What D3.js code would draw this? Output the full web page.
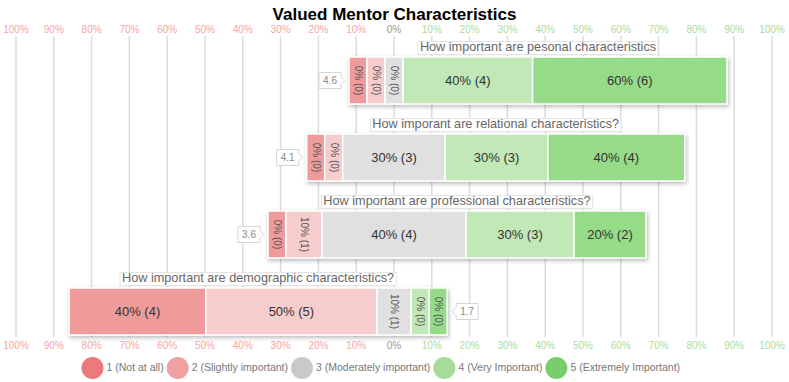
<!DOCTYPE html>
<html>
<head>
<meta charset="utf-8">
<script src="https://cdn.jsdelivr.net/npm/d3@7"></script>
<style>
  body { margin: 0; background: #fff; }
  text { font-family: "Liberation Sans", Arial, sans-serif; }
</style>
</head>
<body>
<svg width="789" height="382"></svg>
<script>
// data
const questions = [
  "How important are pesonal characteristics",
  "How imporant are relational characteristics?",
  "How important are professional characteristics?",
  "How important are demographic characteristics?"
];
const levels = ["1 (Not at all)", "2 (Slightly important)", "3 (Moderately important)",
  "4 (Very Important)", "5 (Extremely Important)"];
const counts = [[0, 0, 0, 4, 6], [0, 0, 3, 3, 4], [0, 1, 4, 3, 2], [4, 5, 1, 0, 0]];
const percents = [[0, 0, 0, 40, 60], [0, 0, 30, 30, 40], [0, 10, 40, 30, 20], [40, 50, 10, 0, 0]];
const means = [4.6, 4.1, 3.6, 1.7];
const tickValues = [-100, -90, -80, -70, -60, -50, -40, -30, -20, -10, 0, 10, 20, 30, 40, 50, 60, 70, 80, 90, 100];

const barColors = ["#ef9b9b", "#f6cccc", "#e0e0e0", "#c1e8b6", "#96db88"];
const legendColors = ["#ec7a7a", "#f0a1a1", "#c9c9c9", "#a7dc98", "#7bcd6b"];

const svg = d3.select("svg"),
  width = +svg.attr("width"),
  height = +svg.attr("height");

const x = d3.scaleLinear().domain([-100, 100]).range([16, 772]);
const y = d3.scaleBand().domain(questions).range([42, 350])
  .paddingInner(0.39).paddingOuter(0.195);

const defs = svg.append("defs");
defs.append("filter").attr("id", "shadow")
  .attr("x", "-5%").attr("y", "-20%").attr("width", "110%").attr("height", "150%")
  .append("feDropShadow")
  .attr("dx", 1).attr("dy", 2).attr("stdDeviation", 2)
  .attr("flood-color", "#000").attr("flood-opacity", 0.28);

// grid
svg.append("g")
  .selectAll("line")
  .data(tickValues)
  .join("line")
  .attr("x1", d => x(d)).attr("x2", d => x(d))
  .attr("y1", 36).attr("y2", 337)
  .attr("stroke", "#dcdcdc")
  .attr("stroke-width", 1.5);

const tickColor = d => d < 0 ? "#f4a5a5" : d > 0 ? "#a9dca0" : "#9a9a9a";
[30, 346].forEach(ty => {
  svg.append("g")
    .selectAll("text")
    .data(tickValues)
    .join("text")
    .attr("x", d => x(d))
    .attr("y", ty)
    .attr("text-anchor", "middle")
    .attr("dominant-baseline", "middle")
    .attr("font-size", 10)
    .attr("fill", tickColor)
    .text(d => Math.abs(d) + "%");
});

// segment widths: empty answers keep a minimum width, the rest share what is left
const minW = 18;
const fullW = x(100) - x(0);

function layout(pcts, qi) {
  const zeros = pcts.filter(p => p === 0).length;
  const w = d3.scaleLinear().domain([0, 100]).range([0, fullW - zeros * minW]);
  const widths = pcts.map(p => p === 0 ? minW : w(p));
  const starts = Array.from(d3.cumsum([0].concat(widths))).slice(0, widths.length);
  const shift = x(0) - (starts[2] + widths[2] / 2);
  return pcts.map((p, i) => ({
    q: questions[qi], level: i, pct: p, count: counts[qi][i],
    x0: starts[i] + shift, w: widths[i]
  }));
}

const rows = questions.map((q, i) => ({ q, mean: means[i], segs: layout(percents[i], i) }));

const row = svg.append("g")
  .selectAll("g")
  .data(rows)
  .join("g")
  .attr("transform", d => `translate(0,${y(d.q)})`);

const bh = y.bandwidth();

row.append("g")
  .attr("filter", "url(#shadow)")
  .selectAll("rect")
  .data(d => d.segs)
  .join("rect")
  .attr("x", d => d.x0)
  .attr("width", d => d.w)
  .attr("height", bh)
  .attr("fill", d => barColors[d.level])
  .attr("stroke", "#fff")
  .attr("stroke-width", 1.5);

const segLabel = row.append("g")
  .selectAll("text")
  .data(d => d.segs)
  .join("text")
  .attr("text-anchor", "middle")
  .attr("dominant-baseline", "middle")
  .text(d => `${d.pct}% (${d.count})`);

segLabel.filter(d => d.w >= 40)
  .attr("x", d => d.x0 + d.w / 2)
  .attr("y", bh / 2 + 1)
  .attr("font-size", 13)
  .attr("fill", "#333");

segLabel.filter(d => d.w < 40)
  .attr("transform", d => `translate(${d.x0 + d.w / 2},${bh / 2}) rotate(90)`)
  .attr("font-size", 10)
  .attr("fill", "#555");

// question titles
row.each(function (d) {
  const g = d3.select(this);
  const first = d.segs[0], last = d.segs[d.segs.length - 1];
  const cx = (first.x0 + last.x0 + last.w) / 2;
  const lbl = g.append("g");
  const box = lbl.append("rect");
  const t = lbl.append("text")
    .attr("x", cx).attr("y", -9)
    .attr("text-anchor", "middle")
    .attr("dominant-baseline", "middle")
    .attr("font-size", 12.7)
    .attr("fill", "#666")
    .text(d.q);
  const bb = t.node().getBBox();
  box.attr("x", bb.x - 2).attr("y", -15.5)
    .attr("width", bb.width + 4).attr("height", 13)
    .attr("fill", "#fff").attr("stroke", "#e4e4e4");

  // mean callout
  const bw = 22, bhh = 16, cy = bh / 2;
  let path, tx;
  if (d.mean >= 3) {
    const tip = first.x0 - 4, r = tip - 4, l = r - bw;
    path = `M${l},${cy - bhh / 2}H${r}V${cy - 4}L${tip},${cy}L${r},${cy + 4}V${cy + bhh / 2}H${l}Z`;
    tx = (l + r) / 2;
  } else {
    const tip = last.x0 + last.w + 5, l = tip + 4, r = l + bw;
    path = `M${r},${cy - bhh / 2}H${l}V${cy - 4}L${tip},${cy}L${l},${cy + 4}V${cy + bhh / 2}H${r}Z`;
    tx = (l + r) / 2;
  }
  g.append("path").attr("d", path)
    .attr("fill", "#fff").attr("stroke", "#d6d6d6");
  g.append("text")
    .attr("x", tx).attr("y", cy + 0.5)
    .attr("text-anchor", "middle")
    .attr("dominant-baseline", "middle")
    .attr("font-size", 10)
    .attr("fill", "#888")
    .text(d.mean.toFixed(1));
});

// legend
const legend = svg.append("g").attr("transform", "translate(0,368)");
let lx = 81.5;
levels.forEach((name, i) => {
  const r = 11;
  legend.append("circle")
    .attr("cx", lx + r).attr("cy", 0).attr("r", r)
    .attr("fill", legendColors[i]);
  const t = legend.append("text")
    .attr("x", lx + 2 * r + 3).attr("y", 0.5)
    .attr("dominant-baseline", "middle")
    .attr("font-size", 10.5)
    .attr("fill", "#777")
    .text(name);
  lx += 2 * r + 3 + t.node().getComputedTextLength() + 3;
});

svg.append("text")
  .attr("x", width / 2)
  .attr("y", 19.5)
  .attr("text-anchor", "middle")
  .attr("font-size", 17)
  .attr("font-weight", "bold")
  .attr("fill", "#000")
  .text("Valued Mentor Characteristics");
</script>
</body>
</html>
